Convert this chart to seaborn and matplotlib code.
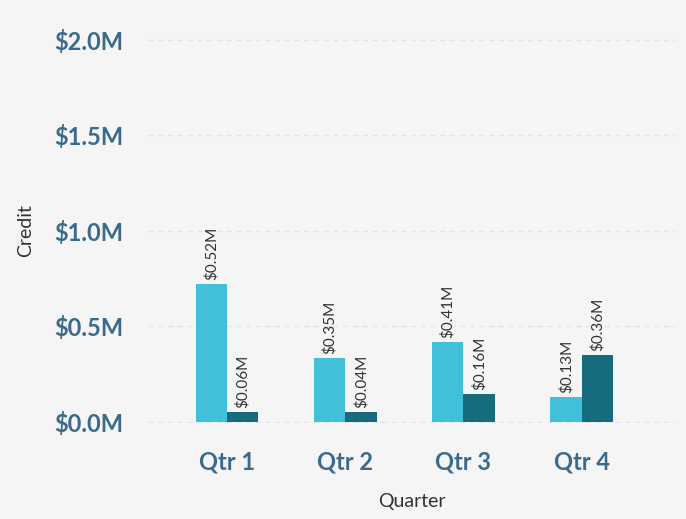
import seaborn as sns
import matplotlib.pyplot as plt
import pandas as pd

quarters = ["Qtr 1", "Qtr 2", "Qtr 3", "Qtr 4"]
series = ["Series A", "Series B"]
# bar heights in $M as drawn
credit_a = [0.72, 0.335, 0.42, 0.13]
credit_b = [0.052, 0.05, 0.147, 0.35]
# labels as printed on the chart
labels_a = ["$0.52M", "$0.35M", "$0.41M", "$0.13M"]
labels_b = ["$0.06M", "$0.04M", "$0.16M", "$0.36M"]
yticks = [0.0, 0.5, 1.0, 1.5, 2.0]

df = pd.DataFrame({
    "Quarter": quarters * 2,
    "Series": [series[0]] * 4 + [series[1]] * 4,
    "Credit": credit_a + credit_b,
})

sns.set_style("white")
plt.rcParams["font.family"] = ["Lato", "DejaVu Sans"]

bg = "#f5f5f5"
fig = plt.figure(figsize=(6.86, 5.19), dpi=100, facecolor=bg)
ax = fig.add_axes([0.2157, 0.185, 0.77, 0.74])
ax.set_facecolor(bg)

sns.barplot(data=df, x="Quarter", y="Credit", hue="Series",
            palette=["#41c1d9", "#176b7e"], width=0.53, saturation=1,
            linewidth=0, legend=False, ax=ax)

for cont, labs in zip(ax.containers, [labels_a, labels_b]):
    ax.bar_label(cont, labels=labs, rotation=90, padding=3,
                 fontsize=11, color="#333333")

ax.set_xlim(-0.67, 3.8)
ax.set_ylim(-0.005, 2.005)
ax.set_yticks(yticks)
ax.set_yticklabels([f"${v:.1f}M" for v in yticks])
ax.grid(axis="y", color="#e4e4e4", linestyle=(0, (4, 3)), linewidth=1)
ax.set_axisbelow(True)
for s in ax.spines.values():
    s.set_visible(False)
ax.tick_params(axis="both", length=0, labelsize=17, labelcolor="#3a6b8c")
for t in ax.get_xticklabels() + ax.get_yticklabels():
    t.set_fontweight("bold")
ax.tick_params(axis="x", pad=20)
ax.tick_params(axis="y", pad=18)

ax.set_xlabel("Quarter", fontsize=14, color="#333333", labelpad=14)
ax.set_ylabel("Credit", fontsize=14, color="#333333", labelpad=14)

fig.savefig("out.png", dpi=100, facecolor=bg)
